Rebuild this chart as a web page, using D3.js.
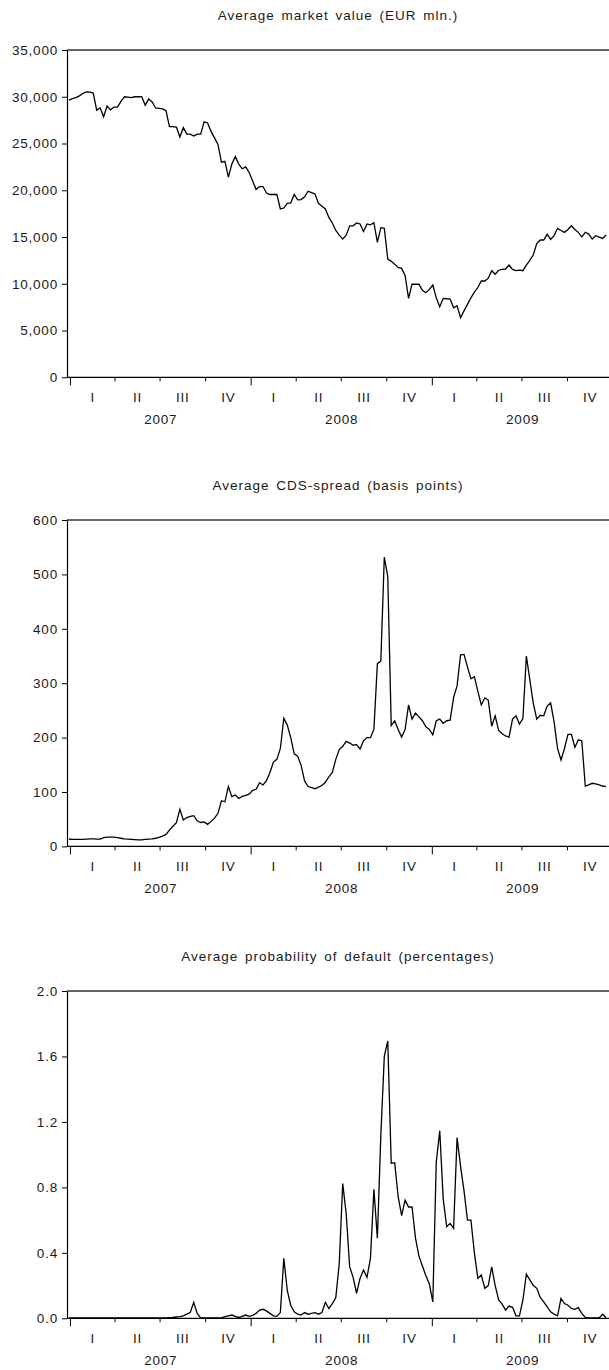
<!DOCTYPE html>
<html>
<head>
<meta charset="utf-8">
<script src="https://cdn.jsdelivr.net/npm/d3@7"></script>
<style>
  html, body { margin: 0; padding: 0; background: #fff; }
  svg { display: block; }
  text { font-family: "Liberation Sans", Arial, Helvetica, sans-serif; fill: #1a1a1a; }
</style>
</head>
<body>
<svg id="chart" width="609" height="1370"></svg>
<script>
// Weekly observations, first week ending 2006-12-29
const firstWeek = "2006-12-29";

const marketValue = [
  29650, 29800, 29900, 30100, 30350, 30530, 30500, 30400, 28570, 28800,
  27860, 29000, 28600, 28900, 28900, 29500, 30000, 29950, 29900, 30000,
  30000, 30000, 29100, 29750, 29450, 28800, 28750, 28700, 28500, 26800,
  26800, 26750, 25700, 26700, 26000, 26000, 25800, 26000, 26000, 27330,
  27200, 26300, 25600, 24900, 23000, 23100, 21400, 22800, 23600, 22800,
  22300, 22500, 21900, 21000, 20100, 20400, 20400, 19700, 19550, 19550,
  19550, 18000, 18100, 18600, 18650, 19560, 18970, 19000, 19300, 19900,
  19750, 19600, 18600, 18300, 18000, 17100, 16500, 15700, 15200, 14780,
  15200, 16200, 16200, 16500, 16400, 15600, 16400, 16300, 16530, 14430,
  16000, 15930, 12650, 12400, 12100, 11750, 11650, 10900, 8440, 9970,
  9950, 9970, 9300, 9050, 9400, 9870, 8500, 7550, 8440, 8400,
  8370, 7440, 7660, 6370, 7100, 7800, 8500, 9100, 9600, 10300,
  10300, 10600, 11400, 11020, 11450, 11550, 11580, 12000, 11540, 11400,
  11470, 11400, 12000, 12500, 13100, 14300, 14680, 14680, 15290, 14750,
  15150, 15930, 15700, 15500, 15800, 16210, 15800, 15500, 15000, 15500,
  15320, 14780, 15140, 15000, 14850, 15220
];

const cdsSpread = [
  13.6, 13, 13, 13, 13, 13.5, 14, 14, 13.5, 13.5,
  16, 17, 17, 17, 16, 15, 14, 13.5, 13, 12.5,
  12, 12, 13, 13.5, 14, 15, 16.5, 19, 22, 30,
  37, 43.6, 68, 48.5, 53, 55, 56.5, 47, 44, 45,
  40.6, 46, 52, 60.8, 84, 82, 110, 91.4, 94.5, 88,
  92, 94, 96, 103, 105, 117, 113, 121, 136, 155,
  160, 180, 235.5, 223, 200, 170, 166, 149, 120, 110,
  108, 106, 109, 112, 118, 128, 136, 160, 178, 184,
  193, 190, 186, 187, 179, 194, 200, 200, 215, 336,
  341, 532, 496, 222, 231, 215, 201, 215, 260, 234,
  245, 238, 231, 220, 215, 205, 231, 234, 226, 231,
  232, 274, 295, 352, 353, 330, 308, 312, 285, 260,
  273, 269, 221, 240, 213, 207, 203, 201, 234, 240,
  225, 235, 350, 306, 263, 234, 241, 240, 258, 264,
  229, 180, 159, 180, 206, 206, 182, 196, 194, 111,
  113, 116, 115, 113, 111, 110
];

const defaultProb = [
  0.002, 0.002, 0.002, 0.002, 0.002, 0.002, 0.002, 0.003, 0.002, 0.002,
  0.002, 0.002, 0.002, 0.003, 0.002, 0.002, 0.002, 0.002, 0.002, 0.003,
  0.002, 0.002, 0.002, 0.002, 0.002, 0.002, 0.003, 0.003, 0.003, 0.004,
  0.005, 0.008, 0.01, 0.015, 0.025, 0.035, 0.098, 0.03, 0.003, 0.003,
  0.003, 0.003, 0.003, 0.003, 0.003, 0.01, 0.015, 0.02, 0.012, 0.005,
  0.012, 0.02, 0.012, 0.018, 0.03, 0.05, 0.055, 0.045, 0.03, 0.015,
  0.012, 0.035, 0.366, 0.17, 0.08, 0.04, 0.025, 0.02, 0.035, 0.025,
  0.03, 0.035, 0.025, 0.035, 0.098, 0.06, 0.09, 0.126, 0.336, 0.824,
  0.64, 0.315, 0.25, 0.153, 0.244, 0.295, 0.25, 0.366, 0.788, 0.489,
  1.12, 1.60, 1.695, 0.947, 0.95, 0.743, 0.627, 0.722, 0.68, 0.68,
  0.49, 0.38, 0.32, 0.26, 0.21, 0.10, 0.956, 1.146, 0.73, 0.56,
  0.58, 0.55, 1.105, 0.93, 0.78, 0.6, 0.6, 0.4, 0.244, 0.265,
  0.183, 0.2, 0.315, 0.2, 0.112, 0.087, 0.05, 0.075, 0.067, 0.015,
  0.015, 0.112, 0.27, 0.235, 0.2, 0.183, 0.128, 0.1, 0.07, 0.04,
  0.025, 0.015, 0.122, 0.09, 0.08, 0.06, 0.055, 0.065, 0.03, 0.005,
  0.002, 0.002, 0.002, 0.002, 0.025, 0.003
];

const panelTitles = [
  "Average market value (EUR mln.)",
  "Average CDS-spread (basis points)",
  "Average probability of default (percentages)"
];
const mvTicks = [0, 5000, 10000, 15000, 20000, 25000, 30000, 35000];
const cdsTicks = [0, 100, 200, 300, 400, 500, 600];
const pdTicks = [0, 0.4, 0.8, 1.2, 1.6, 2.0];
const quarterLabels = ["I", "II", "III", "IV"];
const yearLabels = ["2007", "2008", "2009"];

const svg = d3.select("#chart");
const parse = d3.utcParse("%Y-%m-%d");
const start = parse(firstWeek);
const weekDate = i => d3.utcDay.offset(start, 7 * i);

const left = 67, right = 613;
const fontSize = 13.5, spacing = 0.8;
const x = d3.scaleUtc()
  .domain([parse("2006-12-25"), parse("2010-01-01")])
  .range([left, right]);

const panels = [
  { title: panelTitles[0], values: marketValue, ticks: mvTicks, top: 50, bottom: 377.3,
    max: 35000, fmt: d3.format(",") },
  { title: panelTitles[1], values: cdsSpread, ticks: cdsTicks, top: 520, bottom: 846.4,
    max: 600, fmt: d3.format("d") },
  { title: panelTitles[2], values: defaultProb, ticks: pdTicks, top: 991, bottom: 1318.3,
    max: 2.0, fmt: d3.format(".1f") }
];

const quarterStarts = d3.utcMonth.every(3).range(parse("2007-01-01"), parse("2010-01-02"));
const yearStarts = d3.utcYear.range(parse("2007-01-01"), parse("2010-01-02"));

panels.forEach(p => {
  const y = d3.scaleLinear().domain([0, p.max]).range([p.bottom, p.top]);
  const g = svg.append("g");

  // title
  g.append("text")
    .attr("x", (left + 609) / 2)
    .attr("y", p.top - 30)
    .attr("text-anchor", "middle")
    .attr("font-size", fontSize)
    .attr("letter-spacing", 1)
    .attr("word-spacing", 2)
    .text(p.title);

  // top frame line
  g.append("line")
    .attr("x1", left).attr("x2", 609)
    .attr("y1", p.top).attr("y2", p.top)
    .attr("stroke", "#333").attr("stroke-width", 1.5);

  // y axis
  const ya = g.append("g")
    .attr("transform", `translate(${left},0)`)
    .call(d3.axisLeft(y).tickValues(p.ticks).tickFormat(p.fmt).tickSize(5).tickSizeOuter(0).tickPadding(4));
  ya.select(".domain").attr("stroke", "#000").attr("stroke-width", 1.2);
  ya.selectAll(".tick line").attr("stroke", "#000");
  ya.selectAll(".tick text").attr("font-size", fontSize)
    .attr("letter-spacing", spacing)
    .attr("font-family", "Liberation Sans, Arial, sans-serif").attr("fill", "#1a1a1a");

  // x axis: baseline, quarter ticks, year ticks
  g.append("line")
    .attr("x1", left).attr("x2", 609)
    .attr("y1", p.bottom).attr("y2", p.bottom)
    .attr("stroke", "#000").attr("stroke-width", 1.2);

  g.selectAll("line.qt").data(quarterStarts).join("line")
    .attr("class", "qt")
    .attr("x1", d => x(d)).attr("x2", d => x(d))
    .attr("y1", p.bottom).attr("y2", d => p.bottom + (d.getUTCMonth() === 0 ? 8 : 4))
    .attr("stroke", "#000").attr("stroke-width", 1);

  const quarterMids = quarterStarts.slice(0, -1).map((d, i) =>
    ({ x: (x(d) + x(quarterStarts[i + 1])) / 2, label: quarterLabels[d.getUTCMonth() / 3] }));
  g.selectAll("text.ql").data(quarterMids).join("text")
    .attr("class", "ql")
    .attr("x", d => d.x).attr("y", p.bottom + 25)
    .attr("text-anchor", "middle").attr("font-size", fontSize)
    .attr("letter-spacing", spacing)
    .text(d => d.label);

  const yearMids = yearStarts.slice(0, -1).map((d, i) =>
    ({ x: (x(d) + x(yearStarts[i + 1])) / 2, label: yearLabels[i] }));
  g.selectAll("text.yl").data(yearMids).join("text")
    .attr("class", "yl")
    .attr("x", d => d.x).attr("y", p.bottom + 47)
    .attr("text-anchor", "middle").attr("font-size", fontSize)
    .attr("letter-spacing", spacing)
    .text(d => d.label);

  // series line
  const line = d3.line()
    .x((d, i) => x(weekDate(i)))
    .y(d => y(d));
  g.append("path")
    .datum(p.values)
    .attr("d", line)
    .attr("fill", "none")
    .attr("stroke", "#000")
    .attr("stroke-width", 1.3)
    .attr("stroke-linejoin", "miter");
});
</script>
</body>
</html>
